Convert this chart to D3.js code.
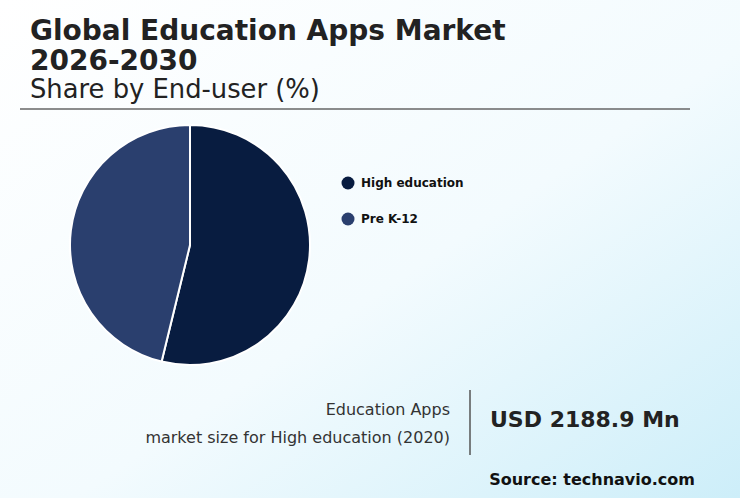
<!DOCTYPE html>
<html><head><meta charset="utf-8">
<script src="https://cdn.jsdelivr.net/npm/d3@7"></script>
<style>body{margin:0;}svg{display:block;font-family:"DejaVu Sans",sans-serif;}</style>
</head><body>
<script>
const categories = ["High education", "Pre K-12"];
const values = [53.8, 46.2];
const colors = ["#081c40", "#2a3f6e"];

const W = 740, H = 498;
const svg = d3.select("body").append("svg").attr("width", W).attr("height", H);
const defs = svg.append("defs");
const g = defs.append("linearGradient").attr("id","bg").attr("x1","0%").attr("y1","0%").attr("x2","100%").attr("y2","100%");
g.append("stop").attr("offset","0%").attr("stop-color","#ffffff");
g.append("stop").attr("offset","55%").attr("stop-color","#f3fbfe");
g.append("stop").attr("offset","100%").attr("stop-color","#cdeef9");
svg.append("rect").attr("width",W).attr("height",H).attr("fill","url(#bg)");

svg.append("text").attr("x",30).attr("y",40).attr("font-size",28).attr("font-weight","bold").attr("fill","#222").text("Global Education Apps Market");
svg.append("text").attr("x",30).attr("y",70).attr("font-size",28).attr("font-weight","bold").attr("fill","#222").text("2026-2030");
svg.append("text").attr("x",30).attr("y",98).attr("font-size",25.8).attr("fill","#222").text("Share by End-user (%)");
svg.append("line").attr("x1",20).attr("x2",690).attr("y1",109).attr("y2",109).attr("stroke","#666").attr("stroke-width",1.5);

const pie = d3.pie().sort(null).value(d=>d)(values);
const arc = d3.arc().innerRadius(0).outerRadius(120);
svg.append("g").attr("transform","translate(190,245)").selectAll("path").data(pie).join("path")
  .attr("d",arc).attr("fill",(d,i)=>colors[i]).attr("stroke","#fff").attr("stroke-width",2);

const leg = svg.append("g").selectAll("g").data(categories).join("g").attr("transform",(d,i)=>`translate(348,${183+i*36})`);
leg.append("circle").attr("r",6.5).attr("fill",(d,i)=>colors[i]);
leg.append("text").attr("x",13).attr("y",4).attr("font-size",12).attr("font-weight","bold").attr("fill","#111").text(d=>d);

svg.append("text").attr("x",450).attr("y",415).attr("text-anchor","end").attr("font-size",16).attr("fill","#333").text("Education Apps");
svg.append("text").attr("x",450).attr("y",443).attr("text-anchor","end").attr("font-size",16).attr("fill","#333").text("market size for High education (2020)");
svg.append("line").attr("x1",470).attr("x2",470).attr("y1",390).attr("y2",455).attr("stroke","#555").attr("stroke-width",1.5);
svg.append("text").attr("x",490).attr("y",427).attr("font-size",22).attr("font-weight","bold").attr("fill","#222").text("USD 2188.9 Mn");
svg.append("text").attr("x",695).attr("y",485).attr("text-anchor","end").attr("font-size",16).attr("font-weight","bold").attr("fill","#111").text("Source: technavio.com");
</script>
</body></html>
